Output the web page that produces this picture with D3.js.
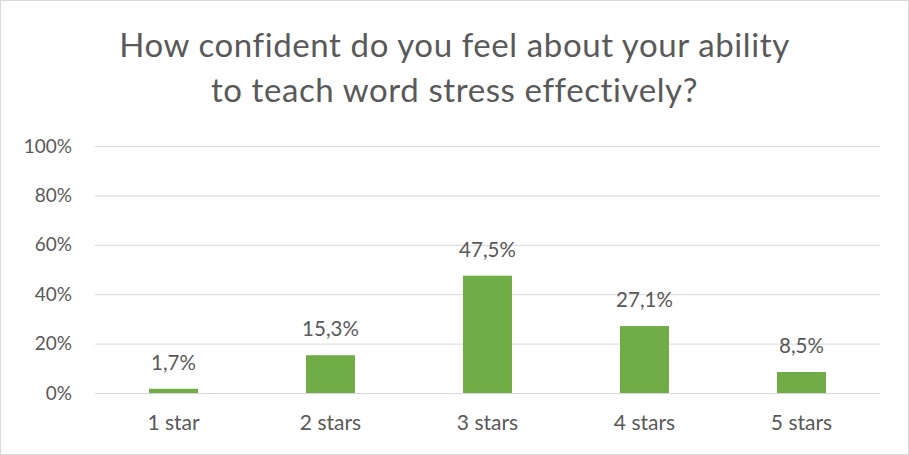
<!DOCTYPE html>
<html>
<head>
<meta charset="utf-8">
<script src="https://cdn.jsdelivr.net/npm/d3@7/dist/d3.min.js"></script>
<style>
  html, body { margin: 0; padding: 0; background: #fff; }
  svg { display: block; font-family: Lato, "Open Sans", sans-serif; }
</style>
</head>
<body>
<svg id="chart" width="909" height="455"></svg>
<script>
// Survey results: confidence in teaching word stress
const titleLines = ["How confident do you feel about your ability", "to teach word stress effectively?"];
const categories = ["1 star", "2 stars", "3 stars", "4 stars", "5 stars"];
const values = [1.7, 15.3, 47.5, 27.1, 8.5];
const labels = ["1,7%", "15,3%", "47,5%", "27,1%", "8,5%"];
const tickValues = [0, 20, 40, 60, 80, 100];

const W = 909, H = 455;
const margin = { left: 95, right: 29, top: 146, bottom: 62 };
const textColor = "#595959";
const gridColor = "#d9d9d9";
const barColor = "#70ad47";
const font = "Lato, 'Open Sans', sans-serif";

const svg = d3.select("#chart");

// Outer frame
svg.append("rect")
  .attr("x", 0.5).attr("y", 0.5)
  .attr("width", W - 1).attr("height", H - 1)
  .attr("fill", "#fff").attr("stroke", gridColor);

const x = d3.scaleBand()
  .domain(categories)
  .range([margin.left, W - margin.right])
  .paddingInner(0.688)
  .paddingOuter(0.344);

const y = d3.scaleLinear()
  .domain([0, 100])
  .range([H - margin.bottom, margin.top]);

// Title (two centred lines)
svg.append("text")
  .attr("text-anchor", "middle")
  .attr("fill", textColor)
  .style("font-size", "33px")
  .style("letter-spacing", "0.6px")
  .selectAll("tspan")
  .data(titleLines)
  .join("tspan")
  .attr("x", W / 2)
  .attr("y", (d, i) => 57 + i * 45)
  .text(d => d);

// Value axis with full-width gridlines
const yAxis = d3.axisLeft(y)
  .tickValues(tickValues)
  .tickSize(-(W - margin.left - margin.right))
  .tickPadding(23)
  .tickFormat(d => d + "%");

const gy = svg.append("g")
  .attr("transform", `translate(${margin.left},0)`)
  .call(yAxis);
gy.select(".domain").remove();
gy.selectAll(".tick line").attr("stroke", gridColor).attr("stroke-width", 1);
gy.selectAll(".tick text")
  .attr("fill", textColor)
  .style("font-size", "19px")
  .style("font-family", font);

// Category axis labels
const xAxis = d3.axisBottom(x).tickSize(0).tickPadding(22);
const gx = svg.append("g")
  .attr("transform", `translate(0,${H - margin.bottom})`)
  .call(xAxis);
gx.select(".domain").remove();
gx.selectAll(".tick text")
  .attr("fill", textColor)
  .style("font-size", "21px")
  .style("font-family", font);

// Bars
svg.append("g")
  .selectAll("rect")
  .data(values)
  .join("rect")
  .attr("x", (d, i) => x(categories[i]))
  .attr("y", d => y(d))
  .attr("width", x.bandwidth())
  .attr("height", d => y(0) - y(d))
  .attr("fill", barColor);

// Value labels above bars
svg.append("g")
  .selectAll("text")
  .data(values)
  .join("text")
  .attr("x", (d, i) => x(categories[i]) + x.bandwidth() / 2)
  .attr("y", d => y(d) - 19)
  .attr("text-anchor", "middle")
  .attr("fill", textColor)
  .style("font-size", "20.5px")
  .text((d, i) => labels[i]);
</script>
</body>
</html>
